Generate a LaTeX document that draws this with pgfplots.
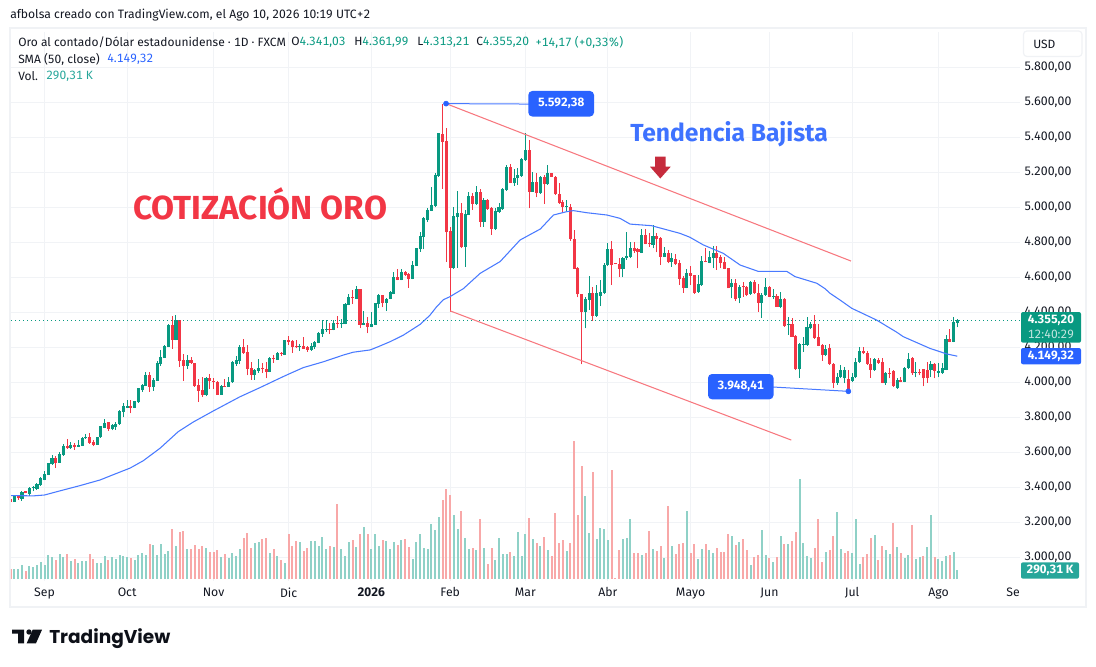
\documentclass[border=0pt]{standalone}
\usepackage{pgfplots}
\usepackage{pgfplotstable}
\usepackage{fontspec}
\pgfplotsset{compat=1.18}
\setmainfont{Fira Sans}[Numbers=Monospaced]
\newfontfamily\logofont{Poppins}
\definecolor{cg}{HTML}{089981}
\definecolor{cr}{HTML}{F23645}
\definecolor{vg}{HTML}{8FD1C7}
\definecolor{vr}{HTML}{F8A8A8}
\definecolor{smac}{HTML}{2962FF}
\definecolor{gridc}{HTML}{F1F3F6}
\definecolor{framec}{HTML}{F0F2F5}
\definecolor{tlc}{HTML}{F7787F}
\definecolor{tealt}{HTML}{26A69A}
\definecolor{arrowc}{HTML}{C62B3C}
\definecolor{inkc}{HTML}{131722}
\definecolor{dotc}{HTML}{089981}
\pgfplotstableread{
i o h l c
0 3336 3340 3313 3315
1 3315 3355 3315 3351
2 3351 3358 3330 3338
3 3336 3379 3324 3376
4 3377 3380 3365 3366
5 3364 3400 3349 3398
6 3395 3406 3377 3400
7 3391 3427 3387 3421
8 3415 3458 3410 3455
9 3444 3493 3440 3478
10 3472 3541 3470 3537
11 3531 3583 3530 3566
12 3566 3577 3512 3541
13 3541 3604 3540 3592
14 3585 3647 3581 3638
15 3638 3678 3619 3623
16 3623 3659 3620 3643
17 3640 3653 3615 3632
18 3632 3668 3630 3643
19 3638 3689 3636 3683
20 3680 3704 3678 3689
21 3689 3710 3649 3655
22 3661 3670 3634 3642
23 3643 3690 3642 3687
24 3685 3752 3684 3748
25 3740 3792 3738 3769
26 3771 3776 3723 3735
27 3733 3763 3725 3754
28 3744 3771 3729 3761
29 3759 3839 3757 3835
30 3832 3881 3799 3862
31 3856 3900 3855 3866
32 3864 3900 3822 3854
33 3854 3896 3852 3891
34 3885 3970 3883 3965
35 3957 3993 3947 3987
36 3980 4061 3978 4042
37 4042 4060 3947 3976
38 3974 4023 3953 4014
39 4010 4122 4008 4113
40 4107 4185 4096 4143
41 4141 4212 4140 4208
42 4204 4333 4202 4329
43 4326 4379 4193 4242
44 4242 4385 4240 4356
45 4356 4358 4090 4124
46 4128 4160 4008 4096
47 4096 4156 4075 4128
48 4128 4143 4107 4109
49 4109 4111 3974 3978
50 3985 4018 3890 3953
51 3957 4029 3915 3928
52 3928 4033 3919 4027
53 4023 4048 3963 4005
54 4010 4023 3961 4004
55 4003 4008 3928 3930
56 3930 3984 3928 3980
57 3979 4020 3972 3973
58 3976 4029 3974 4001
59 3999 4120 3997 4117
60 4107 4151 4094 4128
61 4124 4215 4103 4200
62 4200 4248 4164 4168
63 4174 4212 4039 4077
64 4081 4115 4014 4043
65 4043 4075 4014 4071
66 4067 4132 4056 4080
67 4081 4109 4052 4075
68 4075 4118 4023 4060
69 4060 4143 4058 4139
70 4139 4155 4113 4133
71 4130 4172 4128 4166
72 4168 4175 4151 4162
73 4158 4244 4156 4242
74 4242 4265 4214 4232
75 4234 4242 4170 4204
76 4206 4242 4194 4200
77 4200 4219 4181 4208
78 4208 4257 4189 4191
79 4202 4210 4175 4185
80 4185 4227 4179 4206
81 4202 4238 4189 4231
82 4227 4286 4223 4282
83 4278 4356 4261 4305
84 4301 4356 4289 4307
85 4307 4337 4276 4301
86 4299 4356 4297 4339
87 4339 4379 4308 4333
88 4333 4360 4312 4339
89 4333 4451 4331 4447
90 4443 4502 4440 4487
91 4485 4527 4447 4479
92 4478 4550 4476 4531
93 4533 4535 4308 4329
94 4329 4407 4327 4337
95 4337 4371 4280 4318
96 4318 4400 4314 4331
97 4329 4455 4327 4451
98 4447 4502 4426 4497
99 4499 4501 4428 4453
100 4455 4483 4407 4478
101 4476 4523 4474 4514
102 4504 4631 4502 4603
103 4601 4645 4582 4584
104 4584 4647 4582 4630
105 4630 4637 4610 4612
106 4620 4622 4540 4590
107 4590 4694 4588 4670
108 4666 4770 4664 4766
109 4760 4860 4745 4835
110 4832 4945 4760 4937
111 4928 4995 4915 4985
112 4981 5114 4978 5013
113 5007 5195 5000 5185
114 5179 5425 5175 5423
115 5419 5592 5105 5375
116 5381 5453 4690 4857
117 4865 4886 4404 4655
118 4655 5000 4650 4950
119 4943 5093 4655 4966
120 4966 5027 4766 4771
121 4775 4985 4661 4962
122 4956 5090 4955 5065
123 5065 5080 4985 5019
124 5019 5122 5013 5088
125 5088 5107 4886 4918
126 4918 5052 4890 5042
127 5042 5045 4985 4990
128 4994 5004 4842 4876
129 4876 4994 4870 4979
130 4975 5023 4969 5000
131 4988 5108 4985 5105
132 5099 5242 5095 5230
133 5228 5248 5137 5141
134 5137 5219 5122 5166
135 5166 5223 5128 5185
136 5179 5284 5175 5276
137 5270 5423 5267 5328
138 5328 5385 4994 5090
139 5090 5204 5088 5143
140 5143 5198 5057 5080
141 5080 5179 5078 5175
142 5171 5185 5019 5131
143 5133 5240 5128 5194
144 5194 5198 5172 5175
145 5171 5179 5070 5076
146 5076 5137 5019 5027
147 5032 5042 4970 5004
148 5002 5042 4975 5008
149 5004 5019 4809 4817
150 4817 4870 4645 4648
151 4651 4661 4486 4503
152 4505 4507 4103 4404
153 4404 4486 4308 4476
154 4470 4608 4413 4512
155 4512 4547 4352 4379
156 4379 4556 4375 4512
157 4493 4585 4436 4516
158 4512 4684 4505 4670
159 4670 4798 4665 4762
160 4762 4809 4556 4670
161 4682 4684 4674 4677
162 4678 4708 4604 4648
163 4650 4718 4600 4709
164 4708 4861 4699 4722
165 4718 4800 4708 4769
166 4769 4800 4741 4752
167 4760 4765 4651 4747
168 4741 4876 4738 4844
169 4844 4878 4788 4790
170 4796 4851 4775 4790
171 4787 4899 4765 4836
172 4836 4851 4743 4817
173 4825 4830 4670 4718
174 4718 4775 4715 4741
175 4741 4756 4680 4690
176 4690 4737 4661 4709
177 4703 4731 4670 4676
178 4684 4699 4556 4590
179 4596 4610 4512 4541
180 4541 4646 4537 4623
181 4623 4665 4556 4610
182 4613 4615 4505 4512
183 4518 4613 4512 4562
184 4556 4724 4552 4693
185 4696 4766 4686 4690
186 4684 4752 4680 4716
187 4712 4779 4651 4737
188 4737 4779 4642 4709
189 4714 4725 4651 4680
190 4688 4718 4646 4648
191 4651 4655 4537 4537
192 4543 4588 4480 4566
193 4566 4588 4467 4476
194 4480 4556 4451 4547
195 4548 4575 4489 4542
196 4547 4550 4493 4499
197 4505 4581 4500 4575
198 4575 4585 4505 4509
199 4509 4562 4404 4455
200 4455 4509 4369 4499
201 4499 4598 4494 4547
202 4543 4550 4488 4490
203 4488 4535 4474 4495
204 4493 4505 4430 4432
205 4432 4518 4423 4474
206 4474 4480 4318 4324
207 4327 4371 4270 4333
208 4333 4369 4258 4261
209 4265 4270 4070 4074
210 4074 4223 4027 4218
211 4214 4261 4175 4218
212 4214 4375 4208 4318
213 4308 4347 4303 4333
214 4333 4385 4250 4255
215 4259 4333 4205 4208
216 4213 4217 4124 4156
217 4156 4213 4150 4188
218 4194 4217 4100 4105
219 4105 4112 3965 3998
220 3998 4051 3985 4028
221 4028 4099 4022 4070
222 4023 4086 3994 4070
223 4017 4070 3948 3956
224 4009 4051 3999 4028
225 4028 4141 4023 4118
226 4118 4200 4112 4177
227 4177 4204 4160 4166
228 4169 4180 4100 4105
229 4105 4137 4027 4070
230 4070 4141 4066 4131
231 4127 4141 4105 4112
232 4118 4137 3994 3998
233 3994 4060 3985 4051
234 4055 4080 4023 4051
235 4065 4068 3975 3979
236 3966 4025 3962 4013
237 4013 4030 4000 4004
238 4004 4090 4000 4082
239 4082 4169 4076 4135
240 4137 4142 4042 4051
241 4055 4118 4028 4060
242 4060 4078 4040 4051
243 4076 4078 3977 4023
244 4070 4118 3998 4023
245 4070 4122 4028 4105
246 4105 4112 4023 4065
247 4055 4108 4028 4065
248 4055 4112 4050 4080
249 4072 4270 4068 4246
250 4246 4303 4228 4232
251 4232 4371 4228 4346
252 4341.03 4361.99 4313.21 4355.20
}\cnd
\pgfplotstableread{
i v u
0 322 0
1 322 1
2 322 1
3 452 1
4 258 0
5 419 1
6 387 1
7 452 1
8 548 1
9 452 1
10 774 1
11 710 1
12 613 0
13 806 1
14 710 1
15 806 0
16 581 1
17 645 0
18 516 1
19 581 1
20 581 1
21 806 0
22 645 0
23 516 1
24 516 1
25 742 1
26 613 0
27 710 1
28 645 1
29 763 1
30 742 1
31 710 1
32 677 0
33 613 1
34 774 1
35 839 1
36 774 1
37 1129 0
38 1097 1
39 774 1
40 1129 1
41 806 1
42 903 1
43 1613 0
44 1064 1
45 1516 0
46 1548 0
47 968 1
48 968 0
49 1097 0
50 968 0
51 1064 0
52 1000 1
53 871 0
54 871 0
55 935 0
56 710 1
57 806 0
58 677 1
59 839 1
60 742 1
61 968 1
62 1322 0
63 1484 0
64 1000 0
65 1161 1
66 1193 1
67 1290 0
68 1322 0
69 839 1
70 968 0
71 742 1
72 613 0
73 516 1
74 1451 0
75 1064 0
76 1226 0
77 1193 1
78 903 0
79 1000 0
80 1226 1
81 1226 1
82 1064 1
83 1355 1
84 968 1
85 1064 0
86 1032 1
87 2419 0
88 968 1
89 742 1
90 1193 1
91 1258 0
92 1032 1
93 1451 0
94 1677 1
95 1451 0
96 968 1
97 1451 1
98 1064 1
99 1258 0
100 1226 1
101 968 1
102 1193 1
103 1097 0
104 1258 1
105 1290 0
106 1032 0
107 645 1
108 1193 1
109 1451 1
110 1000 1
111 968 1
112 1774 1
113 1580 1
114 2000 1
115 2548 0
116 2903 0
117 2709 0
118 2064 1
119 1613 1
120 2193 0
121 1322 1
122 968 1
123 1000 0
124 935 1
125 1935 0
126 1000 1
127 484 0
128 1000 0
129 613 1
130 1322 1
131 806 1
132 806 1
133 871 0
134 742 1
135 1516 1
136 742 1
137 1451 1
138 1967 0
139 1290 1
140 1161 0
141 1064 1
142 1355 0
143 935 1
144 742 0
145 2129 0
146 1161 0
147 1258 0
148 903 1
149 1161 0
150 4451 0
151 2064 0
152 3644 0
153 2677 1
154 1484 1
155 3451 0
156 1290 1
157 1645 1
158 1613 1
159 1258 1
160 3515 0
161 32 0
162 935 0
163 1290 1
164 1322 1
165 1935 1
166 839 0
167 839 0
168 774 1
169 839 0
170 1548 0
171 968 1
172 903 0
173 1064 0
174 677 1
175 2354 0
176 1064 1
177 806 0
178 1129 0
179 1161 0
180 2193 1
181 839 0
182 1129 0
183 645 1
184 968 1
185 1129 0
186 935 1
187 839 1
188 1000 0
189 871 0
190 871 0
191 1451 0
192 1387 1
193 1097 0
194 1193 1
195 1290 0
196 935 0
197 452 1
198 710 0
199 774 0
200 1580 1
201 774 1
202 677 0
203 548 1
204 710 0
205 1387 1
206 1129 0
207 1129 1
208 1226 0
209 1516 0
210 3225 1
211 1161 1
212 742 1
213 677 1
214 1000 0
215 1935 0
216 548 0
217 871 1
218 935 0
219 1387 0
220 2161 1
221 968 1
222 839 0
223 903 0
224 839 1
225 1935 1
226 484 1
227 710 0
228 806 0
229 1322 0
230 1419 1
231 613 0
232 1064 0
233 935 1
234 806 1
235 1806 0
236 1032 1
237 839 0
238 677 1
239 774 1
240 1742 0
241 645 1
242 710 1
243 742 0
244 1032 1
245 2064 1
246 710 0
247 645 1
248 581 1
249 742 1
250 774 0
251 871 1
252 290 1
}\vol
\pgfplotstableread{
i p
0 3353
6 3351
9 3356
13 3379
18.5 3410
23.8 3442
27.3 3472
31.8 3510
35.3 3552
39.8 3624
44.6 3718
48.6 3773
54 3837
61 3917
66.4 3970
71.3 4020
73.5 4042
77.9 4084
83.2 4117
88.6 4156
91.2 4172
95.7 4185
97.9 4204
101 4232
104.5 4269
109 4331
111.6 4383
113.4 4432
115.2 4472
117 4490
120.5 4535
125 4623
130.3 4690
135.6 4813
141 4876
144.5 4956
148 4975
149.8 4981
153.4 4969
158.7 4956
162.2 4937
164.9 4904
170.6 4895
178.2 4851
180.8 4829
184.4 4785
189.7 4737
194.2 4670
199 4634
206.6 4634
208.8 4604
214.6 4566
216.8 4535
218.1 4509
220.8 4470
223.9 4423
230.5 4356
235.9 4286
237.6 4261
244.7 4194
249.2 4162
252 4149.32
}\sma
\pgfplotsset{
  candle/.style n args={4}{forget plot, draw=none, mark=none,
    x filter/.expression={#1 ? x : nan},
    error bars/.cd, y dir=plus, y explicit, error mark=none,
    error bar style={line width=#2, color=#3, solid}},
}
\begin{document}
\begin{tikzpicture}[x=0.75pt,y=-0.75pt]
\path[use as bounding box] (0,0) rectangle (1096,667);
\draw[framec,line width=1.5pt] (10,28) rectangle (1086,606.5);
\begin{axis}[
  at={(8.25pt,-435.75pt)}, anchor=south west,
  scale only axis, width=756.75pt, height=411.75pt,
  xmin=0.08, xmax=268.7, ymin=2864.6, ymax=6001.7,
  axis line style={draw=none}, major tick length=0pt,
  grid=major, grid style={color=gridc,line width=0.75pt},
  xtick={9,31,54,74,96,117,137,159,181,202,224,247},
  xticklabels={Sep,Oct,Nov,Dic,\textbf{2026},Feb,Mar,Abr,Mayo,Jun,Jul,Ago},
  ytick={3000,3200,3400,3600,3800,4000,4200,4400,4600,4800,5000,5200,5400,5600,5800},
  yticklabels={{3.000,00},{3.200,00},{3.400,00},{3.600,00},{3.800,00},{4.000,00},{4.200,00},{4.400,00},{4.600,00},{4.800,00},{5.000,00},{5.200,00},{5.400,00},{5.600,00},{5.800,00}},
  yticklabel pos=right,
  yticklabel style={inner sep=0pt,anchor=west,xshift=3pt,font=\fontsize{9.2}{11}\selectfont,text=inkc},
  xticklabel style={font=\fontsize{9.2}{11}\selectfont,text=inkc,yshift=-1.5pt},
  clip=true,
]
% wicks
\addplot[candle={\thisrow{c}>=\thisrow{o}}{0.75pt}{cg}{}] table[x=i,y=l,y error plus expr=\thisrow{h}-\thisrow{l}] {\cnd};
\addplot[candle={\thisrow{c}<\thisrow{o}}{0.75pt}{cr}{}] table[x=i,y=l,y error plus expr=\thisrow{h}-\thisrow{l}] {\cnd};
% bodies
\addplot[candle={\thisrow{c}>=\thisrow{o}}{2.3pt}{cg}{}] table[x=i,y=o,y error plus expr=\thisrow{c}-\thisrow{o}] {\cnd};
\addplot[candle={\thisrow{c}<\thisrow{o}}{2.3pt}{cr}{}] table[x=i,y=c,y error plus expr=\thisrow{o}-\thisrow{c}] {\cnd};
% SMA
\addplot[forget plot,smac!85!white,line width=0.8pt,mark=none] table[x=i,y=p] {\sma};
% current-price dotted line
\addplot[forget plot,color=dotc,mark=none,line width=0.8pt,dash pattern=on 0.8pt off 2.2pt] coordinates {(0.08,4355.2)(268.7,4355.2)};
% trend channel
\addplot[forget plot,tlc,line width=0.8pt] coordinates {(115.9,5592.38)(223.7,4693)};
\addplot[forget plot,tlc,line width=0.8pt] coordinates {(117,4408)(207.8,3670)};
% callout leaders
\addplot[forget plot,smac!85!white,line width=0.75pt] coordinates {(115.9,5592.38)(138,5590)};
\addplot[forget plot,smac!85!white,line width=0.75pt] coordinates {(203,3973)(223,3948.41)};
\addplot[forget plot,only marks,mark=*,mark size=1.9pt,mark options={fill=smac,draw=smac}] coordinates {(115.9,5592.38)(223,3948.41)};
\end{axis}
\begin{axis}[
  at={(8.25pt,-435.75pt)}, anchor=south west,
  scale only axis, width=756.75pt, height=411.75pt,
  xmin=0.08, xmax=268.7, ymin=-64.5, ymax=17641, hide axis, clip=true,
]
\addplot[forget plot,ycomb,mark=none,vg,line width=1.5pt,x filter/.expression={\thisrow{u}==1 ? x : nan}] table[x=i,y=v] {\vol};
\addplot[forget plot,ycomb,mark=none,vr,line width=1.5pt,x filter/.expression={\thisrow{u}==0 ? x : nan}] table[x=i,y=v] {\vol};
\end{axis}
% header texts
\node[anchor=west,inner sep=0pt,font=\fontsize{9.1}{11}\selectfont,text=inkc] at (10,15) {afbolsa creado con TradingView.com, el Ago 10, 2026 10:19 UTC+2};
\node[anchor=west,inner sep=0pt,font=\fontsize{9}{11}\selectfont,text=inkc] at (18,42) {Oro al contado/Dólar estadounidense · 1D · FXCM};
\node[anchor=west,inner sep=0pt,font=\fontsize{9}{11}\selectfont,text=inkc] at (291,42) {O\textcolor{cg}{4.341,03}};
\node[anchor=west,inner sep=0pt,font=\fontsize{9}{11}\selectfont,text=inkc] at (354,42) {H\textcolor{cg}{4.361,99}};
\node[anchor=west,inner sep=0pt,font=\fontsize{9}{11}\selectfont,text=inkc] at (417,42) {L\textcolor{cg}{4.313,21}};
\node[anchor=west,inner sep=0pt,font=\fontsize{9}{11}\selectfont,text=inkc] at (476,42) {C\textcolor{cg}{4.355,20}};
\node[anchor=west,inner sep=0pt,font=\fontsize{9}{11}\selectfont,text=cg] at (535,42) {+14,17 (+0,33\%)};
\node[anchor=west,inner sep=0pt,font=\fontsize{9}{11}\selectfont,text=inkc] at (18,59) {SMA (50, close)};
\node[anchor=west,inner sep=0pt,font=\fontsize{9}{11}\selectfont,text=smac] at (107,59) {4.149,32};
\node[anchor=west,inner sep=0pt,font=\fontsize{9}{11}\selectfont,text=inkc] at (18,76) {Vol.};
\node[anchor=west,inner sep=0pt,font=\fontsize{9}{11}\selectfont,text=tealt] at (46,76) {290,31 K};
% USD box
\draw[framec,line width=0.9pt,fill=white,rounded corners=2.5pt] (1023.5,31) rectangle (1082,56.5);
\node[anchor=west,inner sep=0pt,font=\fontsize{9}{11}\selectfont,text=inkc] at (1033,44) {USD};
\node[anchor=center,inner sep=0pt,font=\fontsize{9.2}{11}\selectfont,text=inkc] at (1013,592.5) {Se};
% annotations
\node[anchor=base west,inner sep=0pt,font=\bfseries\fontsize{25}{28}\selectfont,text=cr] at (133,219.3) {COTIZACIÓN ORO};
\node[anchor=base west,inner sep=0pt,font=\bfseries\fontsize{18.5}{22}\selectfont,text=smac!90!white] at (630,141.7) {Tendencia Bajista};
\fill[arrowc] (655,156.7) -- (665.7,156.7) -- (665.7,166.7) -- (670.7,166.7) -- (660.3,178.5) -- (650,166.7) -- (655,166.7) -- cycle;
% callout boxes
\fill[smac,rounded corners=3pt] (528.3,91) rectangle (594,116.5);
\node[font=\bfseries\fontsize{9}{11}\selectfont,text=white,inner sep=0pt] at (561.2,103.7) {5.592,38};
\fill[smac,rounded corners=3pt] (708,374) rectangle (773.5,399.3);
\node[font=\bfseries\fontsize{9}{11}\selectfont,text=white,inner sep=0pt] at (740.7,386.7) {3.948,41};
% price tags
\fill[cg,rounded corners=1.5pt] (1021,312) rectangle (1081,342.7);
\node[font=\bfseries\fontsize{9}{11}\selectfont,text=white,inner sep=0pt] at (1051,320.5) {4.355,20};
\node[font=\fontsize{9}{11}\selectfont,text=white!75!cg,inner sep=0pt] at (1051,334) {12:40:29};
\fill[smac,rounded corners=1.5pt] (1021,348) rectangle (1081,364.3);
\node[font=\bfseries\fontsize{9}{11}\selectfont,text=white,inner sep=0pt] at (1051,356) {4.149,32};
\fill[tealt,rounded corners=1.5pt] (1021,562.3) rectangle (1079,578.7);
\node[font=\bfseries\fontsize{9}{11}\selectfont,text=white,inner sep=0pt] at (1050,570.5) {290,31 K};
% logo
\fill[inkc!70!black] (12,629.7) -- (24,629.7) -- (24,643.3) -- (18,643.3) -- (18,633.7) -- (12,633.7) -- cycle;
\fill[inkc!70!black] (29,632) circle[radius=2.7];
\fill[inkc!70!black] (32.7,629.7) -- (42,629.7) -- (36,643.3) -- (26.7,643.3) -- cycle;
\node[anchor=base west,inner sep=0pt,font=\logofont\bfseries\fontsize{13.9}{18}\selectfont,text=inkc!70!black] at (49,643.3) {TradingView};
\end{tikzpicture}
\end{document}
